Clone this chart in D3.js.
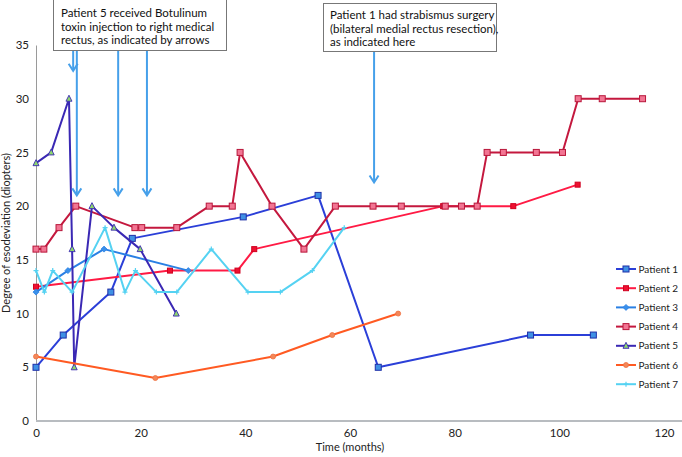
<!DOCTYPE html>
<html><head><meta charset="utf-8">
<script src="https://cdn.jsdelivr.net/npm/d3@7"></script>
<style>body{margin:0;background:#fff}svg{display:block}</style>
</head><body>
<svg id="c" width="682" height="457"></svg>
<script>
const xTicks = [0, 20, 40, 60, 80, 100, 120];
const yTicks = [0, 5, 10, 15, 20, 25, 30, 35];
const seriesNames = ["Patient 1","Patient 2","Patient 3","Patient 4","Patient 5","Patient 6","Patient 7"];
const patient1 = [[0,5],[5.2,8],[14.3,12],[18.4,17],[39.6,19],[53.9,21],[65.4,5],[94.5,8],[106.5,8]];
const patient2 = [[0,12.5],[25.6,14],[38.5,14],[41.7,16],[77.8,20],[91.2,20],[103.5,22]];
const patient3 = [[0,12],[6.1,14],[13,16],[29.1,14]];
const patient4 = [[0,16],[1.5,16],[4.4,18],[7.6,20],[18.9,18],[20.2,18],[26.9,18],[33.1,20],[37.5,20],[39,25],[45.1,20],[51.2,16],[57.2,20],[64.4,20],[69.8,20],[78.2,20],[81.3,20],[84.3,20],[86.2,25],[89.3,25],[95.6,25],[100.6,25],[103.6,30],[108.2,30],[115.9,30]];
const patient5 = [[0,24],[2.9,25],[6.3,30],[6.9,16],[7.3,5],[10.7,20],[14.9,18],[19.9,16],[26.8,10]];
const patient6 = [[0,6],[22.8,4],[45.3,6],[56.6,8],[69.2,10]];
const patient7 = [[0,14],[1.6,12],[3.2,14],[6.9,12],[13.2,18],[17,12],[19,14],[23,12],[26.9,12],[33.5,16],[40.5,12],[46.7,12],[52.8,14],[58.9,18]];
const botoxArrowMonths = [7.1, 7.8, 15.7, 21.2];
const surgeryArrowMonth = 64.6;
const note1 = ["Patient 5 received Botulinum","toxin injection to right medical","rectus, as indicated by arrows"];
const note2 = ["Patient 1 had strabismus surgery","(bilateral medial rectus resection),","as indicated here"];
const xTitle = "Time (months)";
const yTitle = "Degree of esodeviation (diopters)";

const data = [patient1,patient2,patient3,patient4,patient5,patient6,patient7];
const styles = [
  {line:"#2b3fd8", fill:"#3f90e4", stroke:"#1f2fa8", shape:"square", size:6},
  {line:"#ff1a44", fill:"#ee1030", stroke:"#d00020", shape:"square", size:5},
  {line:"#2a80e4", fill:"#3a90ea", stroke:"#2a80e4", shape:"diamond", size:5},
  {line:"#c4183e", fill:"#f27593", stroke:"#b8163a", shape:"square", size:6},
  {line:"#3a28b4", fill:"#8ed66c", stroke:"#3a28b4", shape:"triangle", size:5},
  {line:"#ff5a22", fill:"#f2885a", stroke:"#f07040", shape:"circle", size:5},
  {line:"#55d2f2", fill:"none", stroke:"#55d2f2", shape:"plus", size:5}
];

const svg = d3.select("#c");
const font = "Lato, 'Open Sans', sans-serif";
const x = d3.scaleLinear().domain([0,120]).range([36,664]);
const y = d3.scaleLinear().domain([0,35]).range([421,45]);

// axes
const ya = svg.append("g").attr("transform","translate(36,0)").call(d3.axisLeft(y).tickValues(yTicks).tickSize(0).tickPadding(7));
ya.select(".domain").attr("stroke","#9a9a9a").attr("stroke-width",1);
ya.selectAll("text").attr("font-family",font).attr("font-size",11.5).attr("fill","#222");
const xa = svg.append("g").attr("transform","translate(0,421)").call(d3.axisBottom(x).tickValues(xTicks).tickSize(0).tickPadding(8));
xa.select(".domain").remove();
xa.selectAll("text").attr("font-family",font).attr("font-size",11.5).attr("fill","#222");
svg.append("line").attr("x1",x(0)).attr("x2",682).attr("y1",y(0)).attr("y2",y(0)).attr("stroke","#b8bcc0").attr("stroke-width",2);

svg.append("text").attr("x",350).attr("y",451).attr("text-anchor","middle").attr("font-family",font).attr("font-size",11).attr("fill","#222").text(xTitle);
svg.append("text").attr("transform","translate(10,233) rotate(-90)").attr("text-anchor","middle").attr("font-family",font).attr("font-size",11).attr("fill","#222").text(yTitle);

function marker(g, s, cx, cy){
  const h = s.size/2;
  if(s.shape==="square") g.append("rect").attr("x",cx-h).attr("y",cy-h).attr("width",s.size).attr("height",s.size).attr("fill",s.fill).attr("stroke",s.stroke).attr("stroke-width",1);
  else if(s.shape==="diamond") g.append("path").attr("d",`M${cx},${cy-h-0.5}L${cx+h+0.5},${cy}L${cx},${cy+h+0.5}L${cx-h-0.5},${cy}Z`).attr("fill",s.fill).attr("stroke",s.stroke).attr("stroke-width",0.8);
  else if(s.shape==="triangle") g.append("path").attr("d",`M${cx},${cy-h-1}L${cx+h+0.5},${cy+h}L${cx-h-0.5},${cy+h}Z`).attr("fill",s.fill).attr("stroke",s.stroke).attr("stroke-width",0.9);
  else if(s.shape==="circle") g.append("circle").attr("cx",cx).attr("cy",cy).attr("r",h).attr("fill",s.fill).attr("stroke",s.stroke).attr("stroke-width",0.8);
  else if(s.shape==="plus") g.append("path").attr("d",`M${cx-h},${cy}H${cx+h}M${cx},${cy-h}V${cy+h}`).attr("stroke",s.stroke).attr("stroke-width",1.2);
}

const line = d3.line().x(d=>x(d[0])).y(d=>y(d[1]));
data.forEach((ser,i)=>{
  const s = styles[i];
  const g = svg.append("g");
  g.append("path").attr("d",line(ser)).attr("fill","none").attr("stroke",s.line).attr("stroke-width",2).attr("stroke-linejoin","round");
  ser.forEach(d=>marker(g,s,x(d[0]),y(d[1])));
});

// arrows
const arrowColor = "#46a0ea";
function arrow(px, y0, y1){
  svg.append("line").attr("x1",px).attr("x2",px).attr("y1",y0).attr("y2",y1-1).attr("stroke",arrowColor).attr("stroke-width",2);
  svg.append("path").attr("d",`M${px-4.5},${y1-7}L${px},${y1}L${px+4.5},${y1-7}`).attr("fill","none").attr("stroke",arrowColor).attr("stroke-width",2);
}
const arrowEnds = [y(32.6), y(21), y(21), y(21)];
botoxArrowMonths.forEach((m,i)=>arrow(x(m), 51, arrowEnds[i]));
arrow(x(surgeryArrowMonth), 52, y(22.2));

// notes
function note(lines, bx, by, bw, bh, tx, ty){
  svg.append("rect").attr("x",bx).attr("y",by).attr("width",bw).attr("height",bh).attr("fill","#fff").attr("stroke","#777").attr("stroke-width",1);
  lines.forEach((t,i)=>svg.append("text").attr("x",tx).attr("y",ty+i*13.5).attr("font-family",font).attr("font-size",11.5).attr("fill","#111").text(t));
}
note(note1, 53.5, -0.5, 173, 51, 61, 17);
note(note2, 323.5, 3.5, 173, 48, 330, 19);

// legend
const lg = svg.append("g");
seriesNames.forEach((n,i)=>{
  const ly = 269 + i*19.2;
  const s = styles[i];
  lg.append("line").attr("x1",616).attr("x2",636).attr("y1",ly).attr("y2",ly).attr("stroke",s.line).attr("stroke-width",2);
  marker(lg, s, 626, ly);
  lg.append("text").attr("x",638.5).attr("y",ly+3.5).attr("font-family",font).attr("font-size",10).attr("fill","#222").text(n);
});
</script>
</body></html>
